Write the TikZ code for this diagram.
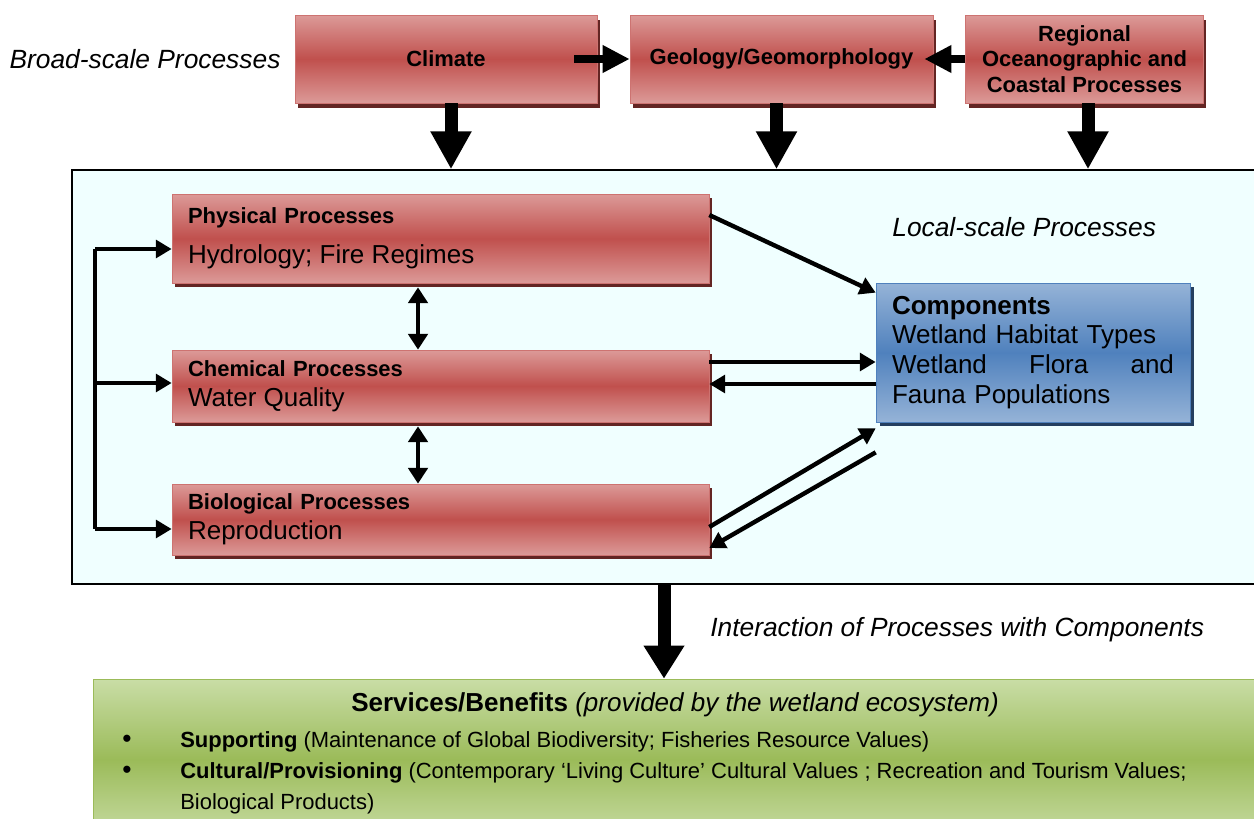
\documentclass[tikz,border=0pt]{standalone}
\usepackage{fontspec}
\setmainfont{Liberation Sans}
\usetikzlibrary{arrows.meta,shadows}

\definecolor{redlite}{HTML}{DC9A98}
\definecolor{redmid}{HTML}{C0504D}
\definecolor{reddark}{HTML}{632523}
\definecolor{bluelite}{HTML}{95B3D7}
\definecolor{bluemid}{HTML}{4F81BD}
\definecolor{bluedark}{HTML}{243F60}
\definecolor{greenlite}{HTML}{C9DDA6}
\definecolor{greenmid}{HTML}{9BBB59}
\definecolor{localbg}{HTML}{F0FFFF}

\newcommand{\svbullet}{\makebox[1.16cm][l]{\fontsize{15}{17}\selectfont\textbullet}}

\begin{document}
\begin{tikzpicture}[x=0.02cm, y=-0.02cm,
    topbox/.style={rectangle, draw=redmid!80!white, top color=redlite, bottom color=redlite, middle color=redmid, drop shadow={shadow xshift=0.06cm, shadow yshift=-0.1cm, fill=reddark, opacity=1}, inner sep=0, minimum height=1.76cm, align=center, font=\fontsize{12.5}{14.5}\selectfont\bfseries},
    procbox/.style={rectangle, draw=redmid!80!white, top color=redlite, bottom color=redlite, middle color=redmid, drop shadow={shadow xshift=0.06cm, shadow yshift=-0.08cm, fill=reddark, opacity=1}, text width=10.1cm, inner xsep=0.32cm, inner ysep=0, align=left, font=\fontsize{12.5}{17}\selectfont},
    compbox/.style={rectangle, draw=bluemid, top color=bluelite, bottom color=bluelite, middle color=bluemid, drop shadow={shadow xshift=0.08cm, shadow yshift=-0.08cm, fill=bluedark, opacity=1}, text width=5.64cm, inner xsep=0.32cm, inner ysep=0, minimum height=2.78cm, align=left, font=\fontsize{14.8}{17}\selectfont},
    note/.style={inner sep=0, font=\fontsize{15}{18}\selectfont\itshape},
    big/.style={line width=7.4pt, -{Triangle[length=21.6pt, width=22pt]}},
    side/.style={line width=5.1pt, -{Triangle[length=15.4pt, width=14.8pt]}},
    arrow/.style={line width=2.5pt, -{Triangle[length=9pt, width=10pt]}},
    twoway/.style={line width=2.8pt, {Triangle[length=9pt, width=11pt]}-{Triangle[length=9pt, width=11pt]}}
]
\clip (0,0) rectangle (1254,818);

% broad-scale row
\node[note] (broad) at (145,59) {Broad-scale Processes};
\node[topbox, minimum width=6.04cm] (climate) at (446,59) {Climate};
\node[topbox, minimum width=6.06cm] (geo) at (781.5,59) {Geology/Geomorphology};
\node[topbox, minimum width=4.76cm] (regional) at (1084.5,59) {Regional\\Oceanographic and\\Coastal Processes};

% local-scale frame
\node[draw=black, line width=0.9pt, fill=localbg, minimum width=23.8cm, minimum height=8.28cm, inner sep=0] (local) at (667,377) {};
\node[note, anchor=west] (localtxt) at (892,227) {Local-scale Processes};

\node[procbox, minimum height=1.78cm] (phys) at (440.5,238.5) {\textbf{Physical Processes}\\[6pt]{\fontsize{14.8}{17}\selectfont Hydrology; Fire Regimes}};
\node[procbox, minimum height=1.44cm] (chem) at (440.5,386) {\textbf{Chemical Processes}\\{\fontsize{14.8}{17}\selectfont Water Quality}};
\node[procbox, minimum height=1.42cm] (bio) at (440.5,519.5) {\textbf{Biological Processes}\\{\fontsize{14.8}{17}\selectfont Reproduction}};

\node[compbox] (comp) at (1033,352.5) {\textbf{Components}\\Wetland Habitat Types\\Wetland\hfill Flora\hfill and\\Fauna Populations};

% services
\node[note, anchor=west] (interact) at (710,630) {Interaction of Processes with Components};
\node[rectangle, draw=greenmid, top color=greenlite, bottom color=greenlite, middle color=greenmid, minimum width=23.38cm, minimum height=3.22cm, inner sep=0] (services) at (677.5,759.5) {};
\node[inner sep=0, font=\fontsize{14.8}{17}\selectfont] (svhead) at (675,705) {\textbf{Services/Benefits} \textit{(provided by the wetland ecosystem)}};
\node[inner sep=0, anchor=north west, align=left, font=\fontsize{12.5}{17.6}\selectfont] (svlist) at (122,731) {\svbullet\textbf{Supporting} (Maintenance of Global Biodiversity; Fisheries Resource Values)\\
\svbullet\textbf{Cultural/Provisioning} (Contemporary `Living Culture' Cultural Values ; Recreation and Tourism Values;\\
\hspace*{1.16cm}Biological Products)};

% broad-scale arrows
\draw[side] ([xshift=-0.46cm]climate.east) -- (geo.west);
\draw[side] (regional.west) -- ([xshift=-0.18cm]geo.east);
\draw[big] ([xshift=0.1cm]climate.south) -- ([xshift=0.1cm]climate.south |- local.north);
\draw[big] ([xshift=-0.1cm]geo.south) -- ([xshift=-0.1cm]geo.south |- local.north);
\draw[big] ([xshift=0.07cm]regional.south) -- ([xshift=0.07cm]regional.south |- local.north);

% feedback rail
\coordinate (rail) at (95,0);
\draw[line width=2.5pt] ([yshift=-0.21cm]phys.west -| rail) -- ([yshift=-0.19cm]bio.west -| rail);
\draw[arrow] ([yshift=-0.21cm]phys.west -| rail) -- ([yshift=-0.21cm]phys.west);
\draw[arrow] ([yshift=0.06cm]chem.west -| rail) -- ([yshift=0.06cm]chem.west);
\draw[arrow] ([yshift=-0.19cm]bio.west -| rail) -- ([yshift=-0.19cm]bio.west);

\coordinate (mid) at (418,0);
\draw[twoway, shorten <=0.08cm] (phys.south -| mid) -- (chem.north -| mid);
\draw[twoway, shorten <=0.08cm] (chem.south -| mid) -- (bio.north -| mid);

% processes <-> components
\draw[arrow] ([yshift=0.47cm]phys.east) -- ([yshift=-0.2cm]comp.north west);
\draw[arrow] ([yshift=0.48cm]chem.east) -- ([yshift=0.48cm]chem.east -| comp.west);
\draw[arrow] ([yshift=0.04cm]chem.east -| comp.west) -- ([yshift=0.04cm]chem.east);
\draw[arrow] ([yshift=-0.15cm]bio.east) -- ([yshift=-0.12cm]comp.south west);
\draw[arrow] ([yshift=-0.6cm]comp.south west) -- ([yshift=-0.57cm]bio.east);

\coordinate (drop) at (664,0);
\draw[big, -{Triangle[length=18.8pt, width=22pt]}] (local.south -| drop) -- (services.north -| drop);
\end{tikzpicture}
\end{document}
